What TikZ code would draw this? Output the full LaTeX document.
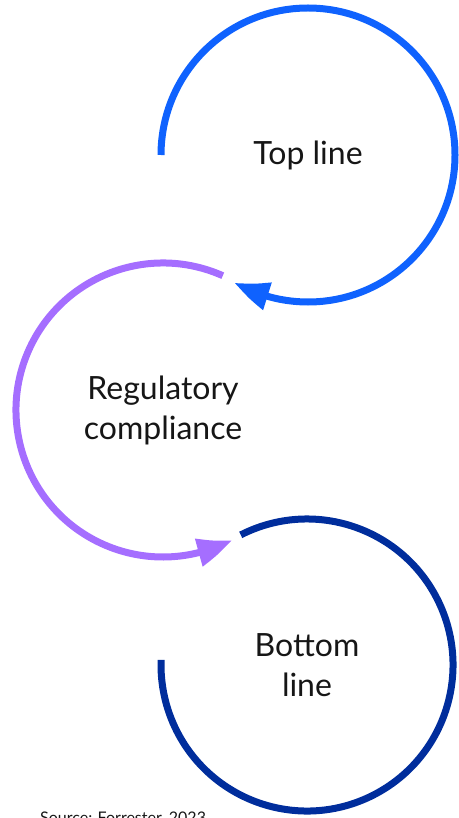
\documentclass[tikz,border=0pt]{standalone}
\usepackage{fontspec}
\setmainfont{Lato}
\usetikzlibrary{arrows.meta,bending,calc}
\definecolor{ringblue}{HTML}{0F62FE}
\definecolor{ringpurple}{HTML}{A56EFF}
\definecolor{ringnavy}{HTML}{002D9C}
\definecolor{inkgrey}{HTML}{161616}

\begin{document}
\begin{tikzpicture}[x=1pt, y=1pt,
  label/.style={align=center, font=\fontsize{32}{40}\selectfont, text=inkgrey, inner sep=0pt},
  ring/.style={line width=7pt},
  ringtip/.style={-{Triangle[length=36pt,width=27pt,bend]}}]
  \useasboundingbox (0,0) rectangle (458,-818);

  % Labels at the ring centres
  \node[label] (top) at (308,-155) {Top line};
  \node[label] (reg) at (163,-410) {Regulatory\\compliance};
  \node[label] (bot) at (307,-665) {Bottom\\line};

  % Rings
  \draw[ring, ringtip, ringblue]
    ($(top)+(180:147)$) arc[start angle=180, end angle=-120, radius=147];
  \draw[ring, ringtip, ringpurple]
    ($(reg)+(66:147)$) arc[start angle=66, end angle=298, radius=147];
  \draw[ring, ringnavy]
    ($(bot)+(117:146)$) arc[start angle=117, end angle=-182, radius=146];

  % Source line, cut by the page edge
  \node[anchor=base west, inner sep=0pt, font=\fontsize{16}{19}\selectfont, text=inkgrey] (src) at (40,-823) {Source: Forrester, 2023};
\end{tikzpicture}
\end{document}
